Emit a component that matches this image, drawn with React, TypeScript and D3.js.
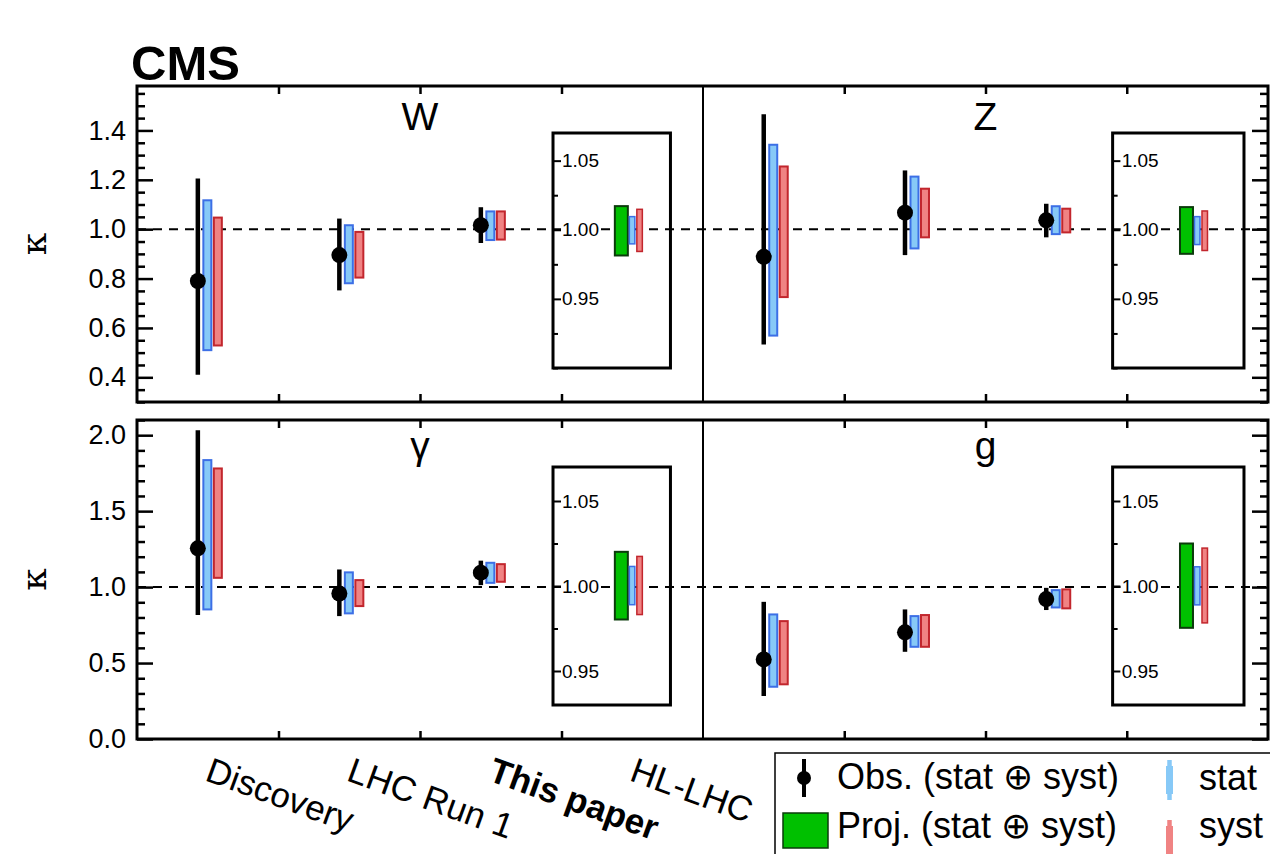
import React, { useRef, useEffect } from 'react';
import * as d3 from 'd3';

// categories along the x axis (HL-LHC is shown in the inset)
const categories = ['Discovery', 'LHC Run 1', 'This paper', 'HL-LHC'];
const categoryPos = [0.43, 1.43, 2.43, 3.43];

// W
const wCentral = [0.79, 0.895, 1.016];
const wTotal = [[0.41, 1.205], [0.752, 1.043], [0.944, 1.089]];
const wStat = [[0.51, 1.117], [0.781, 1.016], [0.956, 1.072]];
const wSyst = [[0.529, 1.047], [0.804, 0.989], [0.958, 1.072]];
const wProj = [0.9814, 1.0171];
const wProjStat = [0.9898, 1.0095];
const wProjSyst = [0.9843, 1.0148];

// Z
const zCentral = [0.888, 1.067, 1.036];
const zTotal = [[0.533, 1.466], [0.895, 1.238], [0.967, 1.103]];
const zStat = [[0.569, 1.342], [0.922, 1.213], [0.98, 1.093]];
const zSyst = [[0.725, 1.254], [0.967, 1.164], [0.987, 1.083]];
const zProj = [0.9826, 1.0164];
const zProjStat = [0.9893, 1.0095];
const zProjSyst = [0.985, 1.0136];

// gamma
const gaCentral = [1.255, 0.958, 1.095];
const gaTotal = [[0.816, 2.033], [0.809, 1.116], [1.013, 1.174]];
const gaStat = [[0.853, 1.836], [0.827, 1.097], [1.028, 1.16]];
const gaSyst = [[1.061, 1.781], [0.875, 1.046], [1.035, 1.151]];
const gaProj = [0.9803, 1.0201];
const gaProjStat = [0.989, 1.0115];
const gaProjSyst = [0.9832, 1.0174];

// gluon
const gCentral = [0.524, 0.702, 0.921];
const gTotal = [[0.283, 0.903], [0.574, 0.853], [0.849, 0.995]];
const gStat = [[0.344, 0.82], [0.607, 0.809], [0.866, 0.98]];
const gSyst = [[0.36, 0.776], [0.607, 0.816], [0.86, 0.985]];
const gProj = [0.9754, 1.025];
const gProjStat = [0.9889, 1.0113];
const gProjSyst = [0.9783, 1.0223];

// axis ranges / ticks
const topDomain = [0.3, 1.58];
const topMajor = [0.4, 0.6, 0.8, 1.0, 1.2, 1.4];
const topMinorStep = 0.05;
const bottomDomain = [0, 2.1];
const bottomMajor = [0, 0.5, 1.0, 1.5, 2.0];
const bottomMinorStep = 0.1;
const topInsetDomain = [0.9, 1.07];
const bottomInsetDomain = [0.93, 1.07];
const insetMajor = [0.95, 1.0, 1.05];
const insetMinorStep = 0.025;
const xTicks = [1, 2, 3];

const FONT = '"Liberation Sans", Arial, Helvetica, sans-serif';
const BLUE_FILL = '#87c9f7';
const BLUE_LINE = '#3c6fe6';
const RED_FILL = '#f08383';
const RED_LINE = '#c2262d';
const GREEN_FILL = '#00c000';
const GREEN_LINE = '#0b3b0b';

const App = () => {
    const svgRef = useRef(null);

    useEffect(() => {
        const width = 1270;
        const height = 854;
        const left = 137, right = 1268, mid = 703;

        const svg = d3.select(svgRef.current);
        svg.selectAll('*').remove();
        svg.attr('width', width).attr('height', height);

        const rows = [
            { top: 86, bottom: 402, domain: topDomain, major: topMajor, step: topMinorStep, inset: topInsetDomain, labelY: 130 },
            { top: 420, bottom: 739, domain: bottomDomain, major: bottomMajor, step: bottomMinorStep, inset: bottomInsetDomain, labelY: 459 },
        ];
        const panels = [
            { name: 'W', row: 0, col: 0, central: wCentral, total: wTotal, stat: wStat, syst: wSyst, proj: wProj, projStat: wProjStat, projSyst: wProjSyst },
            { name: 'Z', row: 0, col: 1, central: zCentral, total: zTotal, stat: zStat, syst: zSyst, proj: zProj, projStat: zProjStat, projSyst: zProjSyst },
            { name: 'γ', row: 1, col: 0, central: gaCentral, total: gaTotal, stat: gaStat, syst: gaSyst, proj: gaProj, projStat: gaProjStat, projSyst: gaProjSyst },
            { name: 'g', row: 1, col: 1, central: gCentral, total: gTotal, stat: gStat, syst: gSyst, proj: gProj, projStat: gProjStat, projSyst: gProjSyst },
        ];
        const xScales = [
            d3.scaleLinear().domain([0, 4]).range([left, mid]),
            d3.scaleLinear().domain([0, 4]).range([mid, right]),
        ];
        // inset box extent (in x units) for each half
        const insetX = [[2.94, 3.77], [2.9, 3.83]];
        const yScales = rows.map(r => d3.scaleLinear().domain(r.domain).range([r.bottom, r.top]));

        // "CMS"
        svg.append('text')
            .attr('x', 131).attr('y', 80)
            .style('font-family', FONT).style('font-weight', 'bold').style('font-size', '49px')
            .text('CMS');

        rows.forEach((r, ri) => {
            const y = yScales[ri];
            // reference line at kappa = 1
            svg.append('line')
                .attr('x1', left).attr('x2', right)
                .attr('y1', y(1)).attr('y2', y(1))
                .attr('stroke', 'black').attr('stroke-width', 2)
                .attr('stroke-dasharray', '9,7');

            // kappa title
            svg.append('text')
                .attr('transform', `translate(46, ${(r.top + r.bottom) / 2}) rotate(-90)`)
                .style('text-anchor', 'middle')
                .style('font-family', '"DejaVu Serif", "Liberation Serif", serif')
                .style('font-size', '36px')
                .text('κ');
        });

        panels.forEach(p => {
            const r = rows[p.row];
            const x = xScales[p.col];
            const y = yScales[p.row];
            const g = svg.append('g');

            // observed measurements
            p.central.forEach((c, i) => {
                const cx = x(categoryPos[i]);
                g.append('line')
                    .attr('x1', cx).attr('x2', cx)
                    .attr('y1', y(p.total[i][0])).attr('y2', y(p.total[i][1]))
                    .attr('stroke', 'black').attr('stroke-width', 4.5);
                g.append('rect')
                    .attr('x', cx + 5.5).attr('width', 8)
                    .attr('y', y(p.stat[i][1])).attr('height', y(p.stat[i][0]) - y(p.stat[i][1]))
                    .attr('fill', BLUE_FILL).attr('stroke', BLUE_LINE).attr('stroke-width', 2);
                g.append('rect')
                    .attr('x', cx + 16).attr('width', 8)
                    .attr('y', y(p.syst[i][1])).attr('height', y(p.syst[i][0]) - y(p.syst[i][1]))
                    .attr('fill', RED_FILL).attr('stroke', RED_LINE).attr('stroke-width', 2);
                g.append('circle')
                    .attr('cx', cx).attr('cy', y(c)).attr('r', 8)
                    .attr('fill', 'black');
            });

            // HL-LHC inset
            const boxTop = r.top + 47;
            const boxBottom = r.bottom - 34;
            const bx0 = x(insetX[p.col][0]), bx1 = x(insetX[p.col][1]);
            const iy = d3.scaleLinear().domain(r.inset).range([boxBottom, boxTop]);
            g.append('rect')
                .attr('x', bx0).attr('y', boxTop)
                .attr('width', bx1 - bx0).attr('height', boxBottom - boxTop)
                .attr('fill', 'none').attr('stroke', 'black').attr('stroke-width', 3);

            const insetMinor = d3.range(Math.ceil(r.inset[0] / insetMinorStep) * insetMinorStep, r.inset[1], insetMinorStep)
                .filter(v => !insetMajor.some(m => Math.abs(m - v) < 1e-6));
            const minorAx = g.append('g').attr('transform', `translate(${bx0},0)`)
                .call(d3.axisRight(iy).tickValues(insetMinor).tickSize(5).tickFormat(() => ''));
            minorAx.select('.domain').remove();
            minorAx.selectAll('line').attr('stroke-width', 2);
            const majorAx = g.append('g').attr('transform', `translate(${bx0},0)`)
                .call(d3.axisRight(iy).tickValues(insetMajor).tickSize(8).tickPadding(1).tickFormat(d3.format('.2f')));
            majorAx.select('.domain').remove();
            majorAx.selectAll('line').attr('stroke-width', 2);
            majorAx.selectAll('text')
                .style('font-family', FONT).style('font-size', '19px').attr('fill', 'black');
            // white patch behind the labels so the dashed line does not cross them
            majorAx.selectAll('.tick').each(function () {
                const t = d3.select(this).select('text').node();
                const bb = t.getBBox();
                d3.select(this).insert('rect', 'text')
                    .attr('x', bb.x - 1).attr('y', bb.y + 2)
                    .attr('width', bb.width + 2).attr('height', bb.height - 4)
                    .attr('fill', 'white');
            });

            const hx = x(categoryPos[3]);
            g.append('rect')
                .attr('x', hx - 7.5).attr('width', 13)
                .attr('y', iy(p.proj[1])).attr('height', iy(p.proj[0]) - iy(p.proj[1]))
                .attr('fill', GREEN_FILL).attr('stroke', GREEN_LINE).attr('stroke-width', 2);
            g.append('rect')
                .attr('x', hx + 7).attr('width', 5.5)
                .attr('y', iy(p.projStat[1])).attr('height', iy(p.projStat[0]) - iy(p.projStat[1]))
                .attr('fill', BLUE_FILL).attr('stroke', BLUE_LINE).attr('stroke-width', 1.5);
            g.append('rect')
                .attr('x', hx + 14.5).attr('width', 5.5)
                .attr('y', iy(p.projSyst[1])).attr('height', iy(p.projSyst[0]) - iy(p.projSyst[1]))
                .attr('fill', RED_FILL).attr('stroke', RED_LINE).attr('stroke-width', 1.5);

            // x ticks (top and bottom, pointing inwards)
            const topAx = g.append('g').attr('transform', `translate(0,${r.top})`)
                .call(d3.axisTop(x).tickValues(xTicks).tickSize(-8).tickFormat(() => ''));
            const botAx = g.append('g').attr('transform', `translate(0,${r.bottom})`)
                .call(d3.axisBottom(x).tickValues(xTicks).tickSize(-8).tickFormat(() => ''));
            [topAx, botAx].forEach(a => {
                a.select('.domain').remove();
                a.selectAll('line').attr('stroke-width', 2.5);
            });

            // panel label
            g.append('text')
                .attr('x', x(2)).attr('y', r.labelY)
                .style('text-anchor', 'middle')
                .style('font-family', FONT).style('font-size', '39px')
                .text(p.name);
        });

        rows.forEach((r, ri) => {
            const y = yScales[ri];
            const minor = d3.range(r.domain[0], r.domain[1] + 1e-9, r.step)
                .filter(v => !r.major.some(m => Math.abs(m - v) < 1e-6));

            // left axis
            const lMinor = svg.append('g').attr('transform', `translate(${left},0)`)
                .call(d3.axisLeft(y).tickValues(minor).tickSize(-8).tickFormat(() => ''));
            const lMajor = svg.append('g').attr('transform', `translate(${left},0)`)
                .call(d3.axisLeft(y).tickValues(r.major).tickSize(-16).tickPadding(11).tickFormat(d3.format('.1f')));
            // right axis
            const rMinor = svg.append('g').attr('transform', `translate(${right},0)`)
                .call(d3.axisRight(y).tickValues(minor).tickSize(-8).tickFormat(() => ''));
            const rMajor = svg.append('g').attr('transform', `translate(${right},0)`)
                .call(d3.axisRight(y).tickValues(r.major).tickSize(-16).tickFormat(() => ''));
            [lMinor, lMajor, rMinor, rMajor].forEach(a => {
                a.select('.domain').remove();
                a.selectAll('line').attr('stroke-width', 2.5);
            });
            lMajor.selectAll('text')
                .style('font-family', FONT).style('font-size', '27px').attr('fill', 'black');

            // divider between the two halves
            svg.append('line')
                .attr('x1', mid).attr('x2', mid)
                .attr('y1', r.top).attr('y2', r.bottom)
                .attr('stroke', 'black').attr('stroke-width', 2);

            // frame
            svg.append('rect')
                .attr('x', left).attr('y', r.top)
                .attr('width', right - left).attr('height', r.bottom - r.top)
                .attr('fill', 'none').attr('stroke', 'black').attr('stroke-width', 3);
        });

        // category labels
        const xl = xScales[0];
        const baseY = 780;
        categories.forEach((c, i) => {
            const lx = xl(categoryPos[i]) + 6;
            svg.append('text')
                .attr('transform', `translate(${lx},${baseY}) rotate(20)`)
                .style('font-family', FONT).style('font-size', '35px')
                .style('font-weight', c === 'This paper' ? 'bold' : 'normal')
                .text(c);
        });

        // legend
        const leg = svg.append('g');
        leg.append('rect')
            .attr('x', 775).attr('y', 753).attr('width', 520).attr('height', 130)
            .attr('fill', 'white').attr('stroke', 'black').attr('stroke-width', 1.5);
        leg.append('line')
            .attr('x1', 804).attr('x2', 804).attr('y1', 759).attr('y2', 797)
            .attr('stroke', 'black').attr('stroke-width', 4);
        leg.append('circle').attr('cx', 804).attr('cy', 778).attr('r', 7).attr('fill', 'black');
        leg.append('rect')
            .attr('x', 783).attr('y', 813).attr('width', 45).attr('height', 35)
            .attr('fill', GREEN_FILL).attr('stroke', GREEN_LINE).attr('stroke-width', 1.5);
        [['Obs. (stat ⊕ syst)', 789], ['Proj. (stat ⊕ syst)', 838]].forEach(([t, ty]) => {
            leg.append('text')
                .attr('x', 837).attr('y', ty)
                .style('font-family', FONT).style('font-size', '36px')
                .text(t);
        });
        [[BLUE_FILL, 760, 'stat', 790], [RED_FILL, 820, 'syst', 838]].forEach(([col, y0, t, ty]) => {
            leg.append('line')
                .attr('x1', 1169.5).attr('x2', 1169.5).attr('y1', y0).attr('y2', y0 + 40)
                .attr('stroke', col).attr('stroke-width', 4.5);
            leg.append('rect')
                .attr('x', 1166).attr('y', y0 + 6).attr('width', 7).attr('height', 28)
                .attr('fill', col);
            leg.append('text')
                .attr('x', 1199).attr('y', ty)
                .style('font-family', FONT).style('font-size', '36px')
                .text(t);
        });
    }, []);

    return (
        <svg ref={svgRef} style={{ position: 'absolute', left: 0, top: 0, background: 'white' }}></svg>
    );
};

export default App;
